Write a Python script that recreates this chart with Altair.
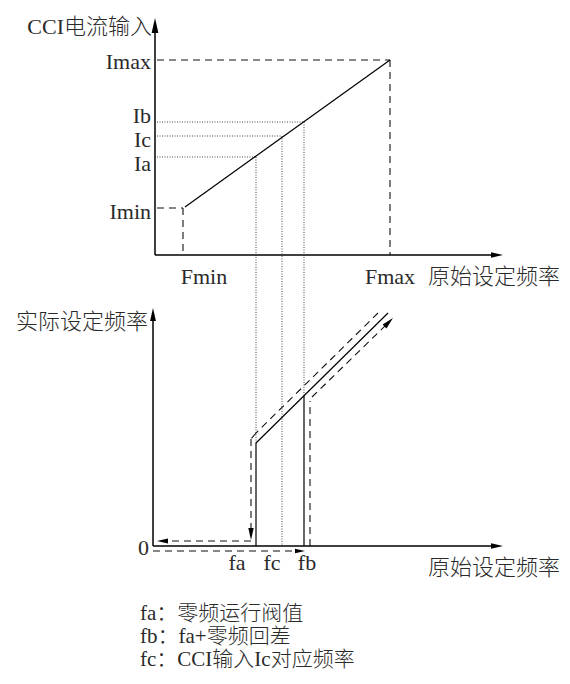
import math
import altair as alt
import pandas as pd

# ---- key diagram positions (diagram units = reference pixels) ----
# top panel (CCI current vs raw set frequency)
TOP_AXIS_X, TOP_AXIS_Y = 155, 255
X_FMIN, X_FMAX = 183, 390
Y_IMIN, Y_IA, Y_IC, Y_IB, Y_IMAX = 208, 157, 136, 122, 60
# bottom panel (actual set frequency vs raw set frequency)
BOT_AXIS_X, BOT_AXIS_Y = 153, 546
X_FA, X_FC, X_FB = 256, 282, 304
AXIS_END_X = 503

# ---- line segments: x, y, x2, y2 ----
axes = [
    (TOP_AXIS_X, TOP_AXIS_Y, TOP_AXIS_X, 30),
    (TOP_AXIS_X, TOP_AXIS_Y, AXIS_END_X - 10, TOP_AXIS_Y),
    (BOT_AXIS_X, BOT_AXIS_Y, BOT_AXIS_X, 318),
    (BOT_AXIS_X, BOT_AXIS_Y, AXIS_END_X - 10, BOT_AXIS_Y),
]
solid = [
    (185, Y_IMIN - 1, X_FMAX, Y_IMAX),          # CCI line
    (X_FA, BOT_AXIS_Y, X_FA, 443),               # jump at fa
    (X_FA, 443, 388, 313),                       # output line
    (X_FB, BOT_AXIS_Y, X_FB, 396),               # jump at fb
]
dashed = [
    (157, Y_IMAX, X_FMAX, Y_IMAX),
    (X_FMAX, Y_IMAX, X_FMAX, TOP_AXIS_Y),
    (157, Y_IMIN, X_FMIN, Y_IMIN),
    (X_FMIN, Y_IMIN, X_FMIN, TOP_AXIS_Y),
    # decreasing path (upper)
    (378, 313, 256, 433),
    (256, 433, 251, 439),
    (251, 439, 251, 530),
    (251, 541, 165, 541),
    # increasing path (lower)
    (BOT_AXIS_X, 551, 297, 551),
    (310, 546, 310, 401),
    (312, 397, 386, 325),
]
dotted = [
    (157, Y_IB, X_FB, Y_IB),
    (157, Y_IC, X_FC, Y_IC),
    (157, Y_IA, X_FA, Y_IA),
    (X_FA, Y_IA, X_FA, 443),
    (X_FC, Y_IC, X_FC, BOT_AXIS_Y),
    (X_FB, Y_IB, X_FB, 396),
]

# ---- arrowheads: tip x, tip y, angle (deg clockwise from up), length ----
arrows = [
    (TOP_AXIS_X, 18, 0, 15),
    (AXIS_END_X, TOP_AXIS_Y, 90, 12),
    (BOT_AXIS_X, 308, 0, 13),
    (AXIS_END_X, BOT_AXIS_Y, 90, 12),
    (393, 318, 45, 12),
    (251, 540, 180, 12),
    (157, 541, 270, 11),
    (305, 551, 90, 10),
]

# ---- texts: label, x, y ----
text_right = [
    ("CCI电流输入", 152, 27),
    ("Imax", 151, 62),
    ("Ib", 151, 116),
    ("Ic", 151, 140),
    ("Ia", 151, 164),
    ("Imin", 151, 212),
    ("实际设定频率", 148, 322),
    ("0", 149, 548),
]
text_center = [
    ("Fmin", 204, 277),
    ("Fmax", 390, 277),
    ("fa", 237, 563),
    ("fc", 272, 563),
    ("fb", 307, 563),
]
text_left = [
    ("原始设定频率", 428, 277),
    ("原始设定频率", 428, 568),
]
legend_lines = [
    ("fa：零频运行阀值", 140, 614),
    ("fb：fa+零频回差", 140, 637),
    ("fc：CCI输入Ic对应频率", 140, 660),
]

FONT = "Liberation Serif, Noto Sans CJK SC, sans-serif"
FS = 22

xs = alt.Scale(domain=[8, 562], nice=False, zero=False)
ys = alt.Scale(domain=[8, 676], nice=False, zero=False, reverse=True)


def seg_df(rows):
    return pd.DataFrame(rows, columns=["x", "y", "x2", "y2"])


def rule_layer(rows, **kw):
    return alt.Chart(seg_df(rows)).mark_rule(**kw).encode(
        x=alt.X("x:Q", scale=xs, axis=None),
        y=alt.Y("y:Q", scale=ys, axis=None),
        x2="x2:Q",
        y2="y2:Q",
    )


def text_layer(rows, align, size=FS):
    df = pd.DataFrame(rows, columns=["label", "x", "y"])
    return alt.Chart(df).mark_text(
        align=align, baseline="middle", font=FONT, fontSize=size,
        fontWeight=300, color="#2a2a2a"
    ).encode(
        x=alt.X("x:Q", scale=xs, axis=None),
        y=alt.Y("y:Q", scale=ys, axis=None),
        text="label:N",
    )


arr_rows = []
for tx, ty, ang, ln in arrows:
    a = math.radians(ang)
    cx = tx - ln / 2 * math.sin(a)
    cy = ty + ln / 2 * math.cos(a)
    arr_rows.append((cx, cy, ang, ln * ln))
arr_df = pd.DataFrame(arr_rows, columns=["x", "y", "angle", "size"])

arrow_layer = alt.Chart(arr_df).mark_point(
    shape="M0,-1L0.45,1L-0.45,1Z", filled=True, color="#000", opacity=1, strokeWidth=0
).encode(
    x=alt.X("x:Q", scale=xs, axis=None),
    y=alt.Y("y:Q", scale=ys, axis=None),
    angle=alt.Angle("angle:Q", scale=None),
    size=alt.Size("size:Q", scale=None),
)

chart = alt.layer(
    rule_layer(dotted, color="#444", strokeWidth=1, strokeDash=[1, 1.5]),
    rule_layer(dashed, color="#111", strokeWidth=1.1, strokeDash=[7, 5]),
    rule_layer(solid, color="#000", strokeWidth=1.2),
    rule_layer(axes, color="#000", strokeWidth=1.5),
    arrow_layer,
    text_layer(text_right, "right"),
    text_layer(text_center, "center"),
    text_layer(text_left, "left"),
    text_layer(legend_lines, "left", size=21),
).properties(
    width=554, height=668, padding=0, autosize="none"
).configure_view(stroke=None)

chart.save("out.html", embed_options={"renderer": "svg", "actions": False})
